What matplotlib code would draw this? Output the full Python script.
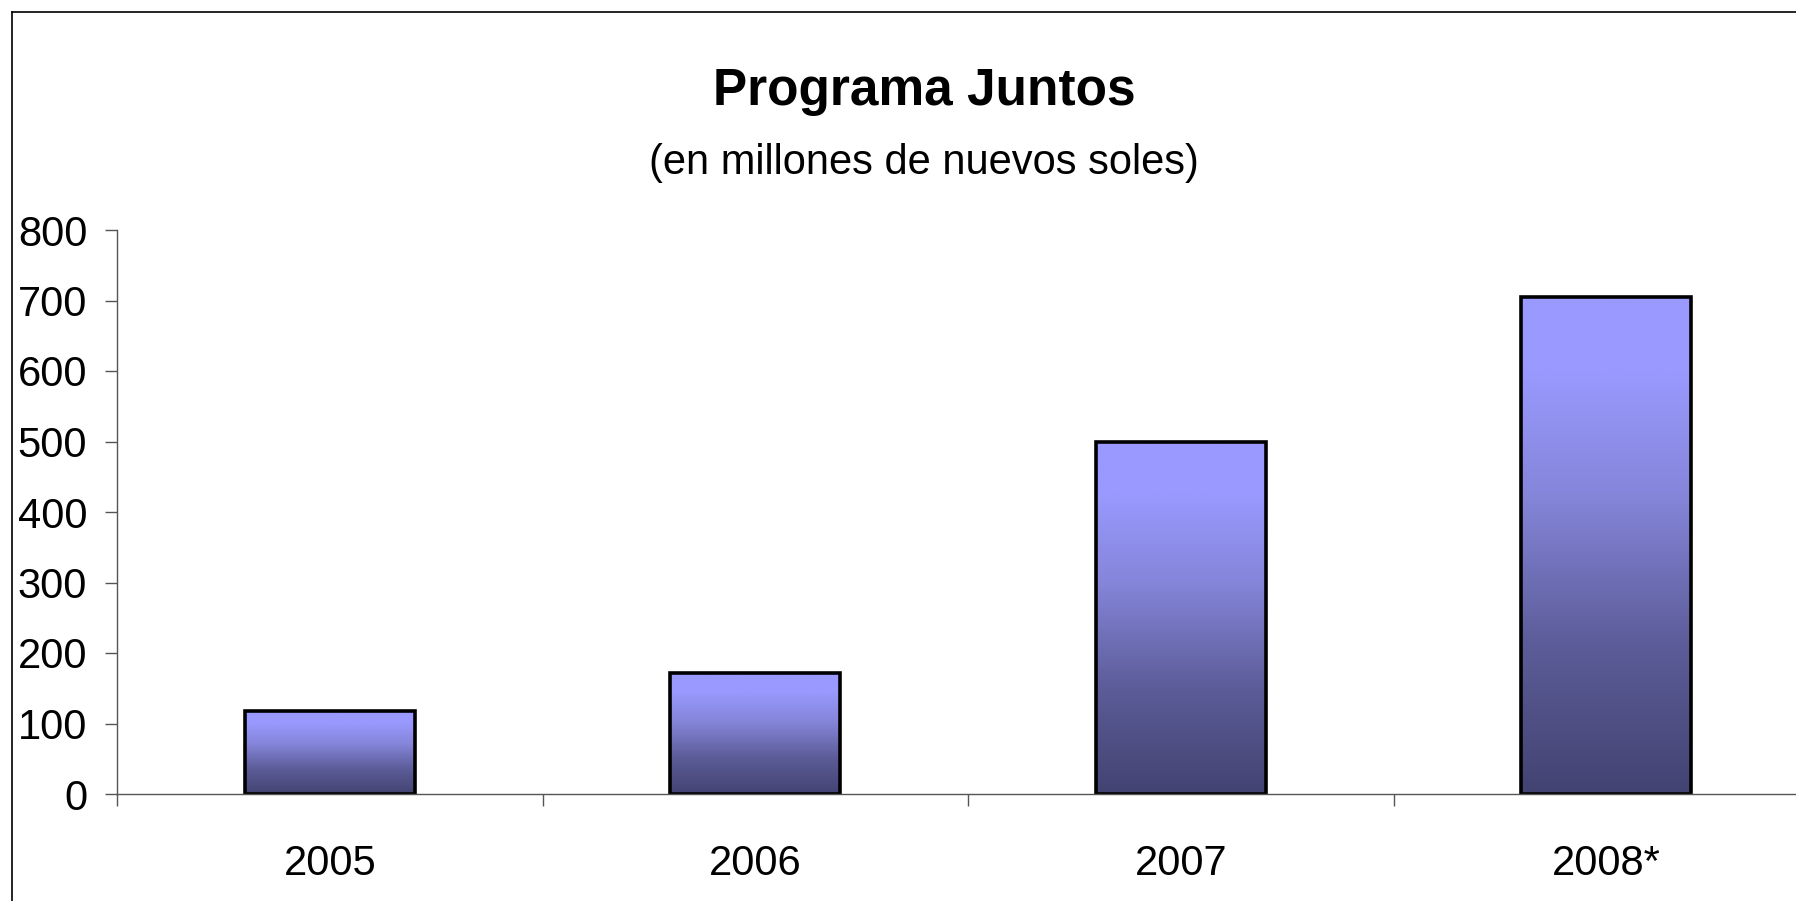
import numpy as np
import matplotlib.pyplot as plt
from matplotlib.colors import LinearSegmentedColormap
from matplotlib.lines import Line2D

years = ["2005", "2006", "2007", "2008*"]
values = [118, 171, 500, 705]
yticks = [0, 100, 200, 300, 400, 500, 600, 700, 800]

title = "Programa Juntos"
subtitle = "(en millones de nuevos soles)"

plt.rcParams["font.family"] = ["Liberation Sans", "DejaVu Sans"]

# light at the top, dark at the bottom (like the old excel fill)
grad = LinearSegmentedColormap.from_list(
    "juntos",
    [(0.0, "#434372"), (0.3, "#5c5c99"), (0.6, "#8585da"),
     (0.85, "#9999ff"), (1.0, "#9999ff")])

fig = plt.figure(figsize=(17.96, 9.01), dpi=100)
ax = fig.add_axes([117 / 1796, 107 / 901, 4 * 425.5 / 1796, 564 / 901])

x = np.arange(len(years))
bars = ax.bar(x, values, width=0.4, facecolor="none",
              edgecolor="black", linewidth=2.6, zorder=3)

g = np.linspace(0, 1, 256).reshape(-1, 1)
for b in bars:
    x0, y0 = b.get_x(), b.get_y()
    w, h = b.get_width(), b.get_height()
    im = ax.imshow(g, cmap=grad, origin="lower", aspect="auto",
                   extent=[x0, x0 + w, y0, y0 + h], zorder=2)
    im.set_clip_path(b)

ax.set_xlim(-0.5, len(years) - 0.5)
ax.set_ylim(0, 800)
ax.set_yticks(yticks)
ax.set_yticklabels([str(v) for v in yticks], fontsize=30)
ax.set_xticks(x)
ax.set_xticklabels(years, fontsize=30)
ax.set_xticks(np.arange(len(years) + 1) - 0.5, minor=True)

ax.tick_params(axis="y", length=8.5, width=1, color="#555555", pad=13)
ax.tick_params(axis="x", which="major", length=0, pad=36)
ax.tick_params(axis="x", which="minor", length=8.5, width=1, color="#555555")

for s in ["top", "right"]:
    ax.spines[s].set_visible(False)
for s in ["left", "bottom"]:
    ax.spines[s].set_color("#555555")
    ax.spines[s].set_linewidth(1)
ax.spines["bottom"].set_zorder(4)

fig.text(0.5147, 0.898, title, ha="center", va="center",
         fontsize=37, fontweight="bold")
fig.text(0.5147, 0.819, subtitle, ha="center", va="center", fontsize=30)

# frame around the chart (cut off at right and bottom)
fx, fy = 11.5 / 1796, 1 - 11.5 / 901
fig.add_artist(Line2D([fx, fx], [0, fy], color="black", lw=1.2))
fig.add_artist(Line2D([fx, 1], [fy, fy], color="black", lw=1.2))

fig.savefig("out.png", dpi=100)
